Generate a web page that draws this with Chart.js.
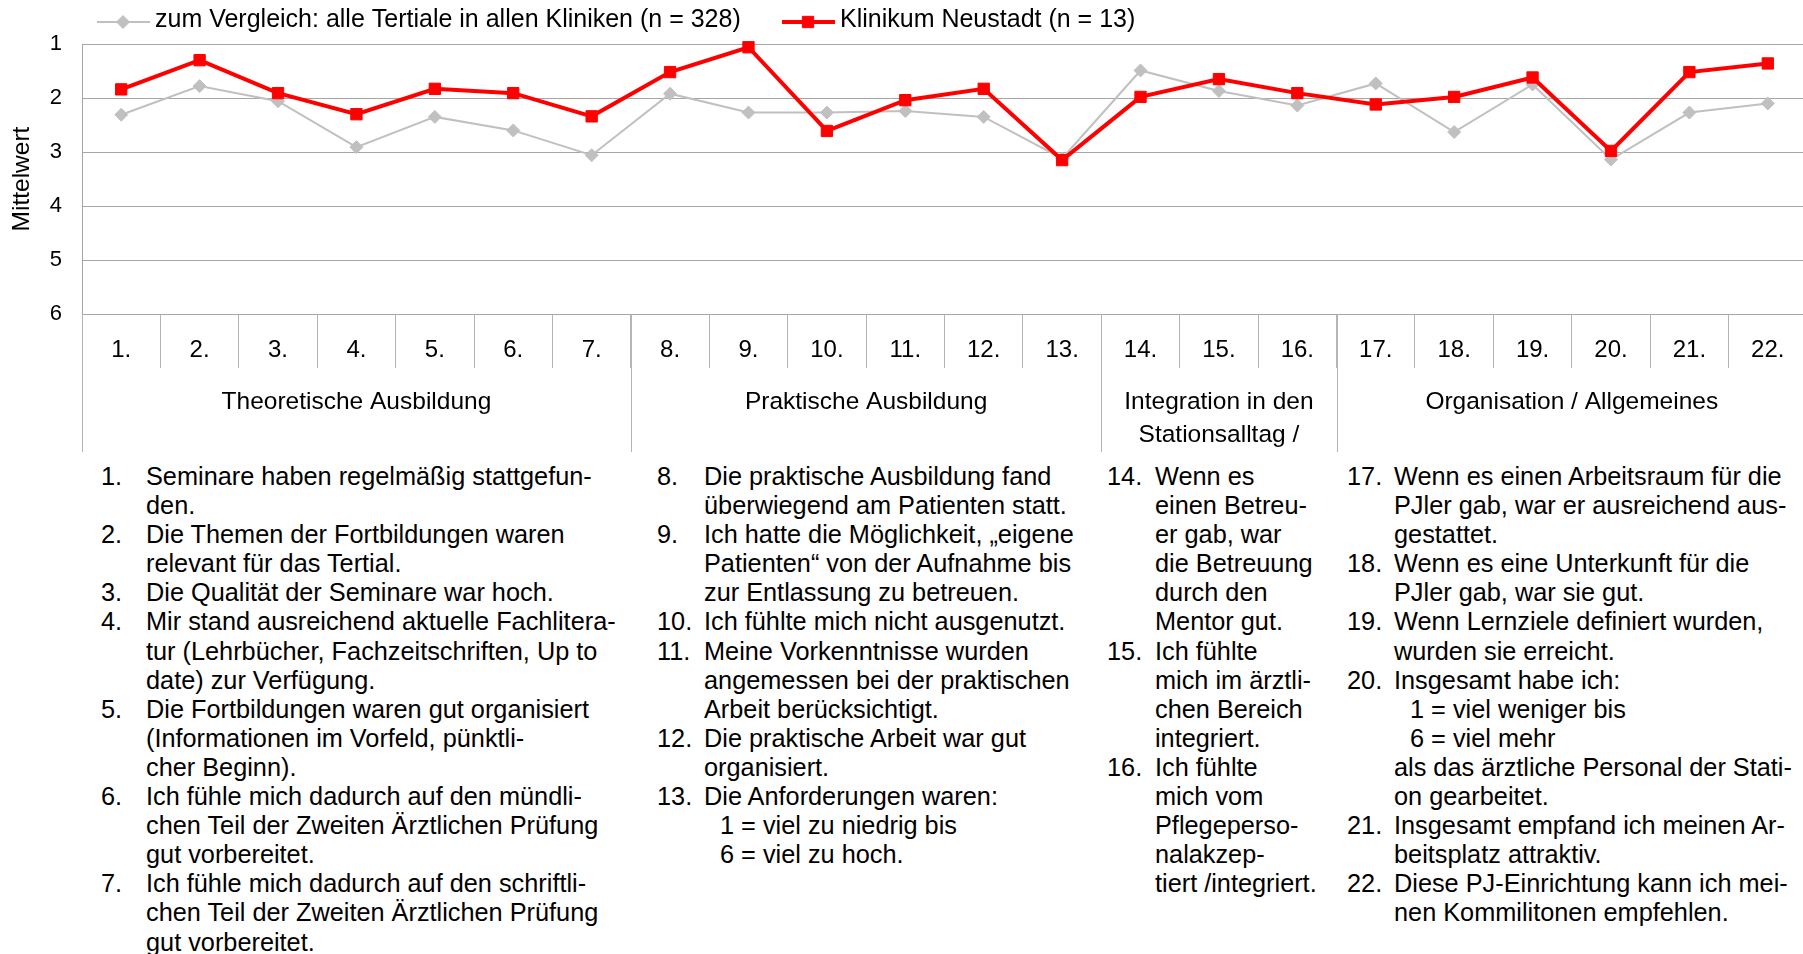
<!DOCTYPE html>
<html lang="de">
<head>
<meta charset="utf-8">
<title>PJ-Evaluation Klinikum Neustadt</title>
<script src="https://cdn.jsdelivr.net/npm/chart.js@4.4.1/dist/chart.umd.min.js"></script>
<style>
  html, body { margin: 0; padding: 0; background: #fff; }
  body {
    width: 1803px; height: 954px; overflow: hidden; position: relative;
    font-family: "Liberation Sans", Arial, Helvetica, sans-serif; color: #000;
  }
  #chartBox { position: absolute; left: 0; top: 0; }
  .col { position: absolute; top: 462px; font-size: 25.3px; line-height: 29.1px; white-space: nowrap; }
  .item { display: flex; }
  .num { flex: none; }
  .sub { display: block; padding-left: 16px; }
  .col1 { left: 101px; } .col1 .num { width: 45px; }
  .col2 { left: 657px; } .col2 .num { width: 47px; }
  .col3 { left: 1107px; } .col3 .num { width: 48px; }
  .col4 { left: 1347px; } .col4 .num { width: 47px; }
</style>
</head>
<body>
<div id="chartBox"><canvas id="pjChart" width="1816" height="460"></canvas></div>

<div class="col col1">
  <div class="item"><span class="num">1.</span><span>Seminare haben regelmäßig stattgefun-<br>den.</span></div>
  <div class="item"><span class="num">2.</span><span>Die Themen der Fortbildungen waren<br>relevant für das Tertial.</span></div>
  <div class="item"><span class="num">3.</span><span>Die Qualität der Seminare war hoch.</span></div>
  <div class="item"><span class="num">4.</span><span>Mir stand ausreichend aktuelle Fachlitera-<br>tur (Lehrbücher, Fachzeitschriften, Up to<br>date) zur Verfügung.</span></div>
  <div class="item"><span class="num">5.</span><span>Die Fortbildungen waren gut organisiert<br>(Informationen im Vorfeld, pünktli-<br>cher Beginn).</span></div>
  <div class="item"><span class="num">6.</span><span>Ich fühle mich dadurch auf den mündli-<br>chen Teil der Zweiten Ärztlichen Prüfung<br>gut vorbereitet.</span></div>
  <div class="item"><span class="num">7.</span><span>Ich fühle mich dadurch auf den schriftli-<br>chen Teil der Zweiten Ärztlichen Prüfung<br>gut vorbereitet.</span></div>
</div>

<div class="col col2">
  <div class="item"><span class="num">8.</span><span>Die praktische Ausbildung fand<br>überwiegend am Patienten statt.</span></div>
  <div class="item"><span class="num">9.</span><span>Ich hatte die Möglichkeit, „eigene<br>Patienten“ von der Aufnahme bis<br>zur Entlassung zu betreuen.</span></div>
  <div class="item"><span class="num">10.</span><span>Ich fühlte mich nicht ausgenutzt.</span></div>
  <div class="item"><span class="num">11.</span><span>Meine Vorkenntnisse wurden<br>angemessen bei der praktischen<br>Arbeit berücksichtigt.</span></div>
  <div class="item"><span class="num">12.</span><span>Die praktische Arbeit war gut<br>organisiert.</span></div>
  <div class="item"><span class="num">13.</span><span>Die Anforderungen waren:<span class="sub">1 = viel zu niedrig bis</span><span class="sub">6 = viel zu hoch.</span></span></div>
</div>

<div class="col col3">
  <div class="item"><span class="num">14.</span><span>Wenn es<br>einen Betreu-<br>er gab, war<br>die Betreuung<br>durch den<br>Mentor gut.</span></div>
  <div class="item"><span class="num">15.</span><span>Ich fühlte<br>mich im ärztli-<br>chen Bereich<br>integriert.</span></div>
  <div class="item"><span class="num">16.</span><span>Ich fühlte<br>mich vom<br>Pflegeperso-<br>nalakzep-<br>tiert /integriert.</span></div>
</div>

<div class="col col4">
  <div class="item"><span class="num">17.</span><span>Wenn es einen Arbeitsraum für die<br>PJler gab, war er ausreichend aus-<br>gestattet.</span></div>
  <div class="item"><span class="num">18.</span><span>Wenn es eine Unterkunft für die<br>PJler gab, war sie gut.</span></div>
  <div class="item"><span class="num">19.</span><span>Wenn Lernziele definiert wurden,<br>wurden sie erreicht.</span></div>
  <div class="item"><span class="num">20.</span><span>Insgesamt habe ich:<span class="sub">1 = viel weniger bis</span><span class="sub">6 = viel mehr</span>als das ärztliche Personal der Stati-<br>on gearbeitet.</span></div>
  <div class="item"><span class="num">21.</span><span>Insgesamt empfand ich meinen Ar-<br>beitsplatz attraktiv.</span></div>
  <div class="item"><span class="num">22.</span><span>Diese PJ-Einrichtung kann ich mei-<br>nen Kommilitonen empfehlen.</span></div>
</div>

<script>
const FONT = '"Liberation Sans", Arial, Helvetica, sans-serif';

// Fragen 1.-22.
const categories = ['1.', '2.', '3.', '4.', '5.', '6.', '7.', '8.', '9.', '10.', '11.',
    '12.', '13.', '14.', '15.', '16.', '17.', '18.', '19.', '20.', '21.', '22.'];

// Mittelwerte
const vergleichValues = [2.31, 1.78, 2.06, 2.91, 2.35, 2.60, 3.06, 1.92, 2.27, 2.27, 2.24,
    2.35, 3.12, 1.49, 1.87, 2.14, 1.73, 2.63, 1.75, 3.14, 2.27, 2.10];
const neustadtValues = [1.84, 1.30, 1.91, 2.30, 1.83, 1.91, 2.34, 1.52, 1.06, 2.61, 2.04,
    1.83, 3.15, 1.98, 1.65, 1.91, 2.12, 1.98, 1.62, 2.98, 1.52, 1.36];

const seriesLabels = ['zum Vergleich: alle Tertiale in allen Kliniken (n = 328)', 'Klinikum Neustadt (n = 13)'];

// Themenbereiche unter der Achse
const groupNames = [['Theoretische Ausbildung'], ['Praktische Ausbildung'],
    ['Integration in den', 'Stationsalltag /'], ['Organisation / Allgemeines']];
const groupSizes = [7, 6, 3, 6];

const yMin = 1;
const yMax = 6;

// Legende mit Linie + Marker (wie im Original)
const lineLegend = {
    id: 'lineLegend',
    afterDraw(chart) {
        const ctx = chart.ctx;
        const startX = [97, 782];
        const y = 22;
        chart.data.datasets.forEach((ds, i) => {
            const x0 = startX[i];
            ctx.save();
            ctx.strokeStyle = ds.borderColor;
            ctx.lineWidth = ds.borderWidth;
            ctx.beginPath();
            ctx.moveTo(x0, y);
            ctx.lineTo(x0 + 53, y);
            ctx.stroke();
            ctx.fillStyle = ds.pointBackgroundColor;
            ctx.strokeStyle = ds.pointBorderColor;
            ctx.lineWidth = 1;
            Chart.helpers.drawPoint(ctx, { pointStyle: ds.pointStyle, radius: ds.pointRadius, borderWidth: 1, rotation: 0 }, x0 + 26, y);
            ctx.fillStyle = '#000';
            ctx.font = '25px ' + FONT;
            ctx.textAlign = 'left';
            ctx.textBaseline = 'middle';
            ctx.fillText(ds.label, x0 + 58, y - 2);
            ctx.restore();
        });
    }
};

// Gruppenbeschriftung + Trennlinien unter den Fragennummern
const groupAxis = {
    id: 'groupAxis',
    afterDraw(chart) {
        const ctx = chart.ctx;
        const xScale = chart.scales.x;
        const top = chart.chartArea.bottom;
        ctx.save();
        ctx.strokeStyle = '#b4b4b4';
        ctx.lineWidth = 1;
        ctx.fillStyle = '#000';
        ctx.font = '24.5px ' + FONT;
        ctx.textAlign = 'center';
        ctx.textBaseline = 'middle';
        let start = 0;
        groupSizes.forEach((size, i) => {
            const left = xScale.getPixelForValue(start - 0.5);
            const right = xScale.getPixelForValue(start + size - 0.5);
            const lx = Math.round(left) + 0.5;
            ctx.beginPath();
            ctx.moveTo(lx, top);
            ctx.lineTo(lx, top + 138);
            ctx.stroke();
            groupNames[i].forEach((line, j) => {
                ctx.fillText(line, (left + right) / 2, top + 88 + j * 33);
            });
            start += size;
        });
        ctx.restore();
    }
};

Chart.defaults.font.family = FONT;
Chart.defaults.color = '#000';

const ctx = document.getElementById('pjChart').getContext('2d');
const pjChart = new Chart(ctx, {
    type: 'line',
    data: {
        labels: categories,
        datasets: [
            {
                label: seriesLabels[0],
                data: vergleichValues,
                borderColor: '#c0c0c0',
                borderWidth: 2,
                pointStyle: 'rectRot',
                pointRadius: 6.5,
                pointBackgroundColor: '#c0c0c0',
                pointBorderColor: '#c0c0c0',
                pointBorderWidth: 1,
                tension: 0,
                clip: false,
                order: 1
            },
            {
                label: seriesLabels[1],
                data: neustadtValues,
                borderColor: '#ff0000',
                borderWidth: 4,
                pointStyle: 'rect',
                pointRadius: 8,
                pointBackgroundColor: '#ff0000',
                pointBorderColor: '#ff0000',
                pointBorderWidth: 1,
                tension: 0,
                clip: false,
                order: 0
            }
        ]
    },
    options: {
        responsive: false,
        animation: false,
        events: [],
        layout: { padding: { top: 44, left: 0, right: 0, bottom: 0 } },
        plugins: {
            legend: { display: false },
            tooltip: { enabled: false }
        },
        scales: {
            x: {
                offset: true,
                grid: {
                    offset: true,
                    drawOnChartArea: false,
                    drawTicks: true,
                    tickLength: 54,
                    color: '#b4b4b4'
                },
                border: { display: true, color: '#a6a6a6' },
                ticks: {
                    autoSkip: false,
                    maxRotation: 0,
                    padding: -32,
                    font: { size: 24 }
                },
                afterFit: scale => { scale.height = 146; }
            },
            y: {
                reverse: true,
                min: yMin,
                max: yMax,
                ticks: { stepSize: 1, padding: 20, font: { size: 22 } },
                grid: { drawTicks: false, color: '#a6a6a6' },
                border: { display: true, color: '#a6a6a6' },
                title: {
                    display: true,
                    text: 'Mittelwert',
                    font: { size: 24.5 },
                    padding: { top: 8, bottom: 0 }
                },
                afterFit: scale => { scale.width = 82; }
            }
        }
    },
    plugins: [lineLegend, groupAxis]
});
</script>
</body>
</html>
